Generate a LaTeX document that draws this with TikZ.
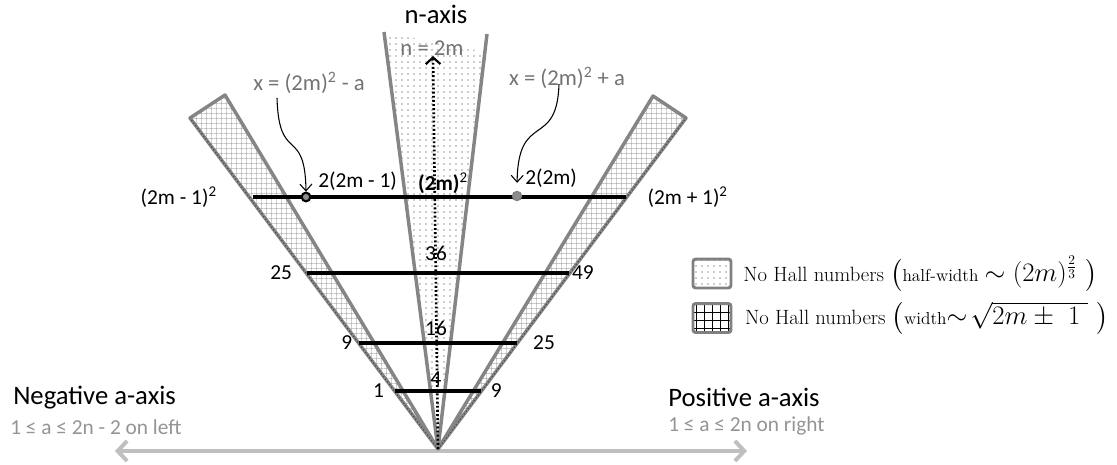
\RequirePackage{fix-cm}
\documentclass[tikz,border=0pt]{standalone}
\usepackage{amsmath,amssymb}
\usepackage{fontspec}
\setsansfont{Carlito}
\usepackage{tikz}
\usetikzlibrary{arrows.meta,positioning,calc,patterns.meta}
\tikzset{
  hn/band/.style={draw=black!48, line width=2.6pt, line join=round, pattern={Hatch[distance=4pt, line width=0.45pt]}, pattern color=black!32},
  hn/edge/.style={draw=black!70, line width=0.9pt, dash pattern=on 0.9pt off 1.6pt},
  hn/cone/.style={draw=black!48, line width=2.6pt},
  hn/dots/.style={pattern={Dots[radius=0.45pt, distance=4.5pt]}, pattern color=black!85},
  hn/level/.style={draw=black, line width=3pt},
  hn/naxis/.style={draw=black, line width=2pt, dash pattern=on 1.4pt off 1.7pt, -{Straight Barb[length=5pt, width=11pt, line width=1.6pt]}},
  hn/axis/.style={draw=black!25, line width=3pt, {Straight Barb[length=7pt, width=15pt]}-{Straight Barb[length=7pt, width=15pt]}},
  hn/curve/.style={draw=black, line width=0.8pt, -{Straight Barb[length=5pt, width=9pt]}},
  hn/ring/.style={circle, draw=black, line width=1.6pt, fill=black!45, inner sep=0pt, minimum size=6.5pt},
  hn/gdot/.style={circle, draw=black!50, fill=black!45, line width=0.8pt, inner sep=0pt, minimum size=7pt},
  hn/title/.style={font=\sffamily\fontsize{20}{24}\selectfont, inner sep=0pt},
  hn/sub/.style={font=\sffamily\fontsize{16}{19}\selectfont, text=black!42, inner sep=0pt},
  hn/grey/.style={font=\sffamily\fontsize{17}{20}\selectfont, text=black!55, inner sep=0pt},
  hn/num/.style={font=\sffamily\fontsize{16}{19}\selectfont, inner sep=0pt},
  hn/key/.style={draw=black!50, line width=2.2pt, rounded corners=2pt, minimum width=28.5pt, minimum height=21.7pt, inner sep=0pt},
  hn/legtxt/.style={font=\rmfamily\fontsize{15.5}{18}\selectfont, inner sep=0pt, anchor=west}
}

\begin{document}
\begin{tikzpicture}[x=0.75pt, y=-0.75pt]
  \useasboundingbox (0,0) rectangle (1117,464);
  \coordinate (O) at (438,449);

  % a-axis
  \coordinate (aL) at (115,451);
  \coordinate (aR) at (747,451);
  \draw[hn/axis] (aL) -- (aR);

  % hatched bands
  \coordinate (bl1) at (190,118);
  \coordinate (bl2) at (225,95);
  \coordinate (br1) at (686,118);
  \coordinate (br2) at (653,96);
  \draw[hn/band] (O) -- (bl1) -- (bl2) -- cycle;
  \draw[hn/band] (O) -- (br1) -- (br2) -- cycle;
  \draw[hn/edge] (O) -- (bl1);
  \draw[hn/edge] (O) -- (br1);

  % central cone
  \coordinate (cl) at (384,32);
  \coordinate (cr) at (487,34);
  \path[hn/dots] (O) -- (cl) -- (485,52) -- cycle;
  \draw[hn/cone] (O) -- (cl);
  \draw[hn/cone] (O) -- (cr);

  % levels
  \foreach \y/\l/\m/\r/\gl/\gr/\dm in {391/1/4/9/8pt/7pt/12, 343/9/16/25/5pt/12pt/15, 273/25/36/49/11pt/2pt/20}{
    \pgfmathsetmacro\h{0.745*(449-\y)}
    \coordinate (L\y) at (438-\h,\y);
    \coordinate (R\y) at (438+\h,\y);
    \draw[hn/level] (L\y) -- (R\y);
    \node[hn/num, left=\gl of L\y] (nl\y) {\l};
    \node[hn/num, right=\gr of R\y] (nr\y) {\r};
    \node[hn/num] (nm\y) at (436,\y-\dm) {\m};
  }
  \coordinate (Ltop) at (253,197);
  \coordinate (Rtop) at (626,197);
  \draw[hn/level] (Ltop) -- (Rtop);
  \node[hn/num, left=27pt of Ltop] (lm1) {(2m - 1)\textsuperscript{2}};
  \node[hn/num, right=16pt of Rtop] (lp1) {(2m + 1)\textsuperscript{2}};
  \node[hn/num] (lsq) at (443,183) {\textbf{(2m)}\textsuperscript{2}};

  % n-axis
  \coordinate (ntop) at (433,56);
  \draw[hn/naxis] (O) -- (ntop);
  \node[hn/title] (naxis) at (436,14) {n-axis};
  \node[hn/grey] (neq) at (432,48) {n = 2m};

  % marked points
  \node[hn/ring] (cminus) at (306,197) {};
  \node[hn/gdot] (cplus) at (517,196) {};
  \node[hn/num, anchor=west] (lab2m1) at (318,181) {2(2m - 1)};
  \node[hn/num, anchor=west] (lab2m) at (525,178) {2(2m)};
  \node[hn/grey] (xminus) at (309,83) {x = (2m)\textsuperscript{2} - a};
  \node[hn/grey] (xplus) at (567,78) {x = (2m)\textsuperscript{2} + a};
  \coordinate (xmS) at (277,98);
  \coordinate (xpS) at (559,84);
  \draw[hn/curve] (xmS) .. controls (279,165) and (305,125) .. (cminus.north);
  \draw[hn/curve, shorten >=6pt] (xpS) .. controls (557,150) and (518,110) .. (cplus.north);

  % axis texts
  \node[hn/title, anchor=west] (negax) at (13,398) {Negative a-axis};
  \node[hn/sub, anchor=west] (negsub) at (10,427) {1 ≤ a ≤ 2n - 2 on left};
  \node[hn/title, anchor=west] (posax) at (668,397) {Positive a-axis};
  \node[hn/sub, anchor=west] (possub) at (668,426) {1 ≤ a ≤ 2n on right};

  % legend
  \node[hn/key, pattern={Dots[radius=0.45pt, distance=4.5pt]}, pattern color=black!85] (kdots) at (712,273.5) {};
  \node[hn/legtxt, right=8pt of kdots] (tdots) {No Hall numbers {\fontsize{20}{20}\selectfont$\bigl($}{\fontsize{13}{15}\selectfont half-width} {\fontsize{20}{20}\selectfont$\sim(2m)^{\frac{2}{3}}\ \bigr)$}};
  \node[hn/key, pattern={Hatch[distance=6pt, line width=0.6pt]}, pattern color=black] (kgrid) at (712,318) {};
  \node[hn/legtxt, right=10pt of kgrid] (tgrid) {No Hall numbers {\fontsize{20}{20}\selectfont$\bigl($}{\fontsize{13}{15}\selectfont width}{\fontsize{20}{20}\selectfont$\sim\!\sqrt{2m\pm\ 1\ }\ \bigr)$}};
\end{tikzpicture}
\end{document}
